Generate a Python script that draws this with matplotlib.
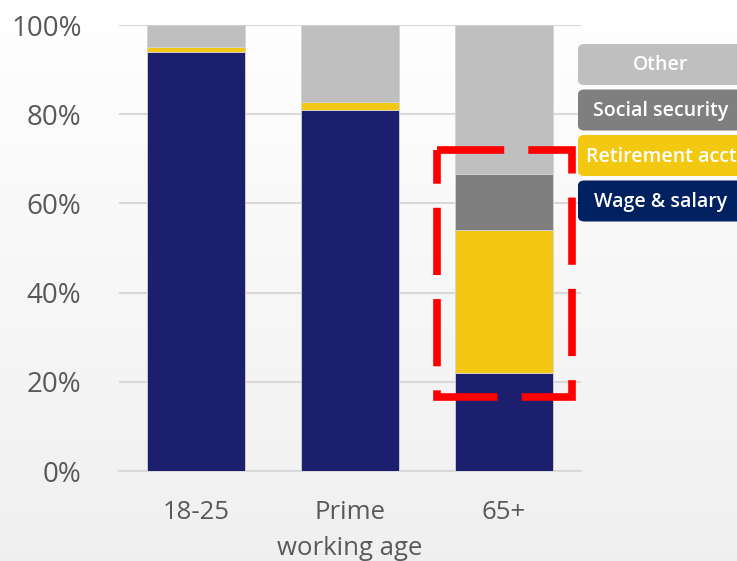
import numpy as np
import matplotlib
matplotlib.use("Agg")
import matplotlib.pyplot as plt
from matplotlib.patches import FancyBboxPatch

plt.rcParams['font.family'] = ['Open Sans', 'DejaVu Sans']

groups = ['18-25', 'Prime\nworking age', '65+']
wage = [94.0, 81.0, 22.0]
retire = [1.0, 1.7, 32.0]
social = [0.0, 0.0, 12.5]
other = [5.0, 17.3, 33.5]

series = ['Wage & salary', 'Retirement acct', 'Social security', 'Other']
bar_colors = ['#1b1f6d', '#f2c814', '#7f7f7f', '#bfbfbf']
legend_colors = ['#002060', '#f2c811', '#7f7f7f', '#bfbfbf']
yticks = [0, 20, 40, 60, 80, 100]

fig = plt.figure(figsize=(7.37, 5.61), dpi=100)

# background gradient
bg = fig.add_axes([0, 0, 1, 1], zorder=-10)
grad = np.linspace(1.0, 0.94, 256).reshape(-1, 1)
bg.imshow(np.dstack([grad, grad, grad]), aspect='auto', extent=[0, 1, 0, 1])
bg.axis('off')

ax = fig.add_axes([119 / 737, 90 / 561, 462 / 737, 446 / 561])
ax.patch.set_alpha(0)

x = np.arange(len(groups))
bottom = np.zeros(len(groups))
for vals, c in zip([wage, retire, social, other], bar_colors):
    ax.bar(x, vals, 0.636, bottom=bottom, color=c, edgecolor='#d4d4d4',
           linewidth=0.6, zorder=3)
    bottom += np.array(vals)

ax.set_xlim(-0.5, 2.5)
ax.set_ylim(0, 100)
ax.set_yticks(yticks)
ax.set_yticklabels([f'{v}%' for v in yticks])
ax.set_xticks(x)
ax.set_xticklabels(groups, linespacing=1.55)
ax.tick_params(axis='both', length=0, colors='#595959')
ax.tick_params(axis='y', labelsize=20, pad=27)
ax.tick_params(axis='x', labelsize=18.5, pad=21)
ax.grid(axis='y', color='#d9d9d9', linewidth=1.5, zorder=0)
for s in ['top', 'right', 'left']:
    ax.spines[s].set_visible(False)
ax.spines['bottom'].set_color('#d9d9d9')
ax.spines['bottom'].set_linewidth(1.5)

# red dashed highlight around the 65+ bar (clockwise from top-left)
hx0, hx1 = x[2] - 0.435, x[2] + 0.44
hy0, hy1 = 16.6, 72.0
ax.plot([hx0, hx1, hx1, hx0, hx0], [hy1, hy1, hy0, hy0, hy1], color='#ff0000',
        linewidth=5.5, linestyle=(0, (8.8, 3.15)), dash_capstyle='butt',
        dash_joinstyle='miter', zorder=5, clip_on=False)

# legend boxes
for i, (name, c) in enumerate(zip(series[::-1], legend_colors[::-1])):
    top = 43 + i * 45.5
    y0 = 1 - (top + 42) / 561
    fig.patches.append(FancyBboxPatch((578 / 737, y0), 170 / 737, 41 / 561,
                                      boxstyle='round,pad=0,rounding_size=0.009',
                                      transform=fig.transFigure, facecolor=c,
                                      edgecolor='none', zorder=4))
    fig.text(661 / 737, y0 + 19.5 / 561, name, color='white', fontsize=14,
             fontweight='semibold', ha='center', va='center', zorder=6)

fig.savefig('out.png', dpi=100)
